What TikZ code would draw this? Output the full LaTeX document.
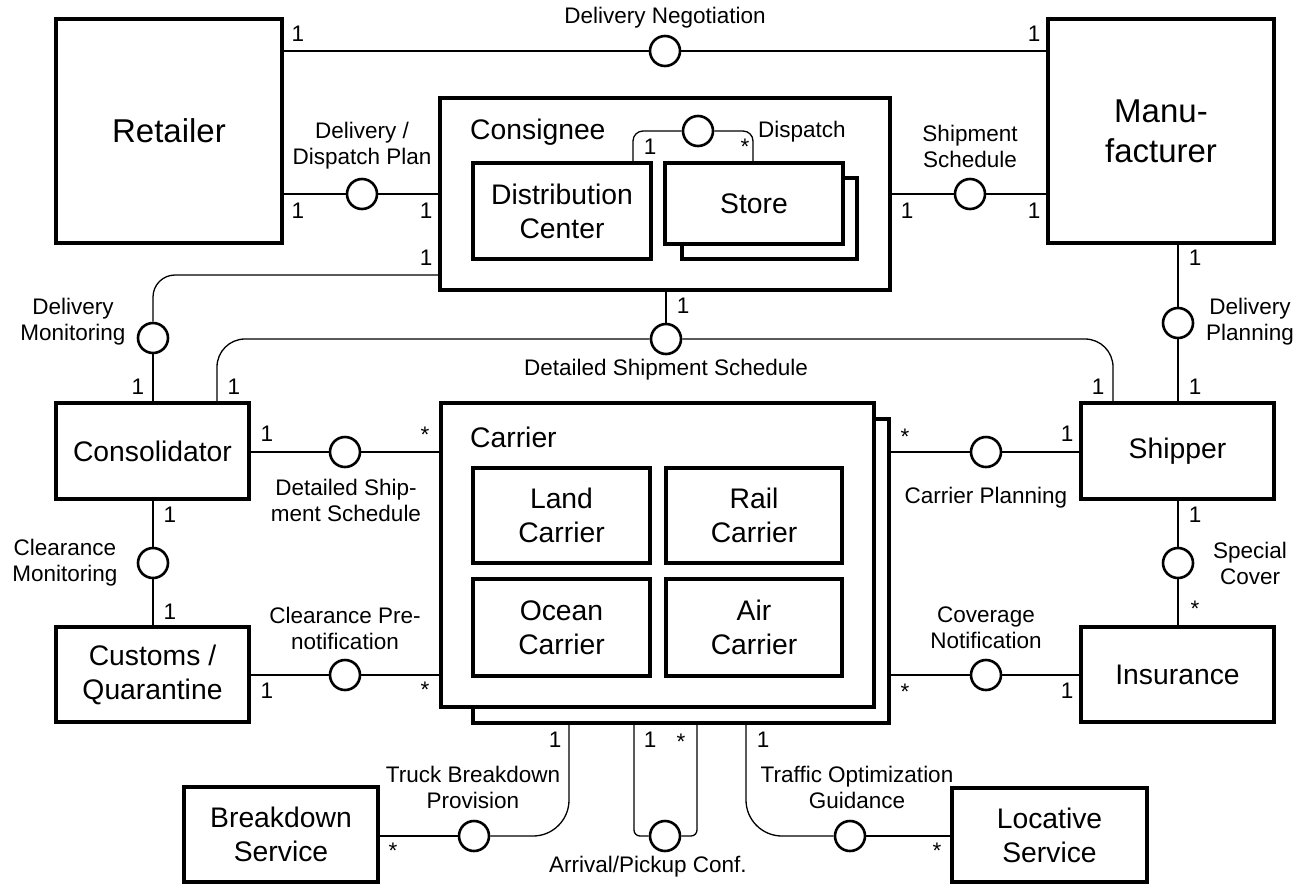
\documentclass[tikz,border=0pt]{standalone}
\usepackage{fontspec}
\setmainfont{Liberation Sans}
\begin{document}
\begin{tikzpicture}[x=1pt,y=-1pt,
  box/.style={draw, line width=3.2pt, fill=white, inner sep=0pt, align=center, font=\fontsize{28.3}{34}\selectfont},
  bigbox/.style={box, font=\fontsize{33}{40}\selectfont},
  iface/.style={draw, circle, line width=2.6pt, fill=white, minimum size=30pt, inner sep=0pt},
  conn/.style={line width=1.3pt},
  lbl/.style={font=\fontsize{22.5}{26}\selectfont, align=center, inner sep=0pt},
  mult/.style={font=\fontsize{22.5}{26}\selectfont, inner sep=0pt},
  title/.style={font=\fontsize{28.3}{34}\selectfont, inner sep=0pt, anchor=west},
]
\useasboundingbox (0,0) rectangle (1300,884);

% ---- boxes ----
\node[bigbox, minimum width=226pt, minimum height=224pt] (retailer) at (169,131) {Retailer};
\node[bigbox, minimum width=226pt, minimum height=224pt] (manu) at (1161,131) {Manu-\\facturer};

\node[box, minimum width=450pt, minimum height=192pt] (consignee) at (665,194) {};
\node[title] (consigneelbl) at (470,132) {Consignee};
\node[box, minimum width=178pt, minimum height=96pt] (dc) at (562,211) {Distribution\\Center};
\node[box, minimum width=175pt, minimum height=81pt] (storeshadow) at (769.5,218.5) {};
\node[box, minimum width=178pt, minimum height=81pt] (store) at (754,203.5) {Store};

\node[box, minimum width=193pt, minimum height=96pt] (consolidator) at (152.5,451) {Consolidator};
\node[box, minimum width=193pt, minimum height=96pt] (shipper) at (1177.5,451) {Shipper};
\node[box, minimum width=193pt, minimum height=95pt] (customs) at (152.5,674.5) {Customs /\\Quarantine};
\node[box, minimum width=193pt, minimum height=95pt] (insurance) at (1177.5,674.5) {Insurance};

\node[box, minimum width=416pt, minimum height=304pt] (cshadow) at (681,571) {};
\node[box, minimum width=433pt, minimum height=304pt] (carrier) at (657.5,555) {};
\node[title] (carrierlbl) at (470,437) {Carrier};
\node[box, minimum width=177pt, minimum height=95pt] (land) at (561.5,515.5) {Land\\Carrier};
\node[box, minimum width=176pt, minimum height=95pt] (rail) at (754,515.5) {Rail\\Carrier};
\node[box, minimum width=177pt, minimum height=97pt] (ocean) at (561.5,627.5) {Ocean\\Carrier};
\node[box, minimum width=176pt, minimum height=97pt] (air) at (754,627.5) {Air\\Carrier};

\node[box, minimum width=194pt, minimum height=95pt] (breakdown) at (281,834.5) {Breakdown\\Service};
\node[box, minimum width=195pt, minimum height=94pt] (locative) at (1049.5,835) {Locative\\Service};

% ---- interfaces ----
\node[iface] (ineg) at (665,51) {};
\node[iface] (idpp) at (362,194) {};
\node[iface] (iss) at (970,194) {};
\node[iface] (idisp) at (698,131) {};
\node[iface] (idm) at (153,338) {};
\node[iface] (ids) at (666,339) {};
\node[iface] (idp) at (1178,323) {};
\node[iface] (icc) at (345,452) {};
\node[iface] (isc) at (986,452) {};
\node[iface] (icm) at (153,563) {};
\node[iface] (icp) at (345,675) {};
\node[iface] (isp) at (1178,563) {};
\node[iface] (icn) at (986,675) {};
\node[iface] (itb) at (474,836) {};
\node[iface] (iap) at (665,836) {};
\node[iface] (ito) at (850,836) {};

% ---- turn points ----
\coordinate (dA) at (633,131);
\coordinate (dB) at (753,131);
\coordinate (dm) at (153,275);
\coordinate (dsL) at (217,339);
\coordinate (dsR) at (1113,339);
\coordinate (tb) at (569,836);
\coordinate (apL) at (634,836);
\coordinate (apR) at (697,836);
\coordinate (to) at (746,836);

% ---- connectors ----
\draw[conn] (retailer.east |- ineg) -- (ineg) -- (manu.west |- ineg);
\draw[conn] (retailer.east |- idpp) -- (idpp) -- (consignee.west |- idpp);
\draw[conn] (consignee.east |- iss) -- (iss) -- (manu.west |- iss);
\draw[conn, rounded corners=10pt] (dA |- dc.north) -- (dA) -- (idisp);
\draw[conn, rounded corners=10pt] (idisp) -- (dB) -- (dB |- store.north);
\draw[conn, rounded corners=22pt] (consignee.west |- dm) -- (dm) -- (idm);
\draw[conn] (idm) -- (idm |- consolidator.north);
\draw[conn, rounded corners=28pt] (dsL |- consolidator.north) -- (dsL) -- (ids);
\draw[conn, rounded corners=28pt] (ids) -- (dsR) -- (dsR |- shipper.north);
\draw[conn] (consignee.south -| ids) -- (ids);
\draw[conn] (idp |- manu.south) -- (idp) -- (idp |- shipper.north);
\draw[conn] (consolidator.east |- icc) -- (icc) -- (carrier.west |- icc);
\draw[conn] (cshadow.east |- isc) -- (isc) -- (shipper.west |- isc);
\draw[conn] (icm |- consolidator.south) -- (icm) -- (icm |- customs.north);
\draw[conn] (customs.east |- icp) -- (icp) -- (carrier.west |- icp);
\draw[conn] (isp |- shipper.south) -- (isp) -- (isp |- insurance.north);
\draw[conn] (cshadow.east |- icn) -- (icn) -- (insurance.west |- icn);
\draw[conn, rounded corners=36pt] (tb |- cshadow.south) -- (tb) -- (itb);
\draw[conn] (itb) -- (breakdown.east |- itb);
\draw[conn, rounded corners=6pt] (apL |- cshadow.south) -- (apL) -- (iap);
\draw[conn, rounded corners=6pt] (iap) -- (apR) -- (apR |- cshadow.south);
\draw[conn, rounded corners=36pt] (to |- cshadow.south) -- (to) -- (ito);
\draw[conn] (ito) -- (locative.west |- ito);

% ---- interface labels ----
\node[lbl] (lneg) at (665,18) {Delivery Negotiation};
\node[lbl] (ldpp) at (362,146) {Delivery /\\Dispatch Plan};
\node[lbl] (lss) at (970,146) {Shipment\\Schedule};
\node[lbl, anchor=west] (ldisp) at (758,132) {Dispatch};
\node[lbl] (ldm) at (73,322) {Delivery\\Monitoring};
\node[lbl] (lds) at (666,370) {Detailed Shipment Schedule};
\node[lbl] (ldp) at (1250,322) {Delivery\\Planning};
\node[lbl] (lcc) at (346,500) {Detailed Ship-\\ment Schedule};
\node[lbl] (lsc) at (986,498) {Carrier Planning};
\node[lbl] (lcm) at (65,563) {Clearance\\Monitoring};
\node[lbl] (lcp) at (345,628) {Clearance Pre-\\notification};
\node[lbl] (lsp) at (1250,563) {Special\\Cover};
\node[lbl] (lcn) at (986,628) {Coverage\\Notification};
\node[lbl] (ltb) at (473,787) {Truck Breakdown\\Provision};
\node[lbl] (lap) at (648,867) {Arrival/Pickup Conf.};
\node[lbl] (lto) at (857,787) {Traffic Optimization\\Guidance};

% ---- multiplicities ----
\node[mult] (m1) at (298,34) {1};
\node[mult] (m2) at (1034,34) {1};
\node[mult] (m3) at (298,211) {1};
\node[mult] (m4) at (426,211) {1};
\node[mult] (m5) at (907,211) {1};
\node[mult] (m6) at (1034,211) {1};
\node[mult] (m7) at (650,147) {1};
\node[mult] (m8) at (745,147) {*};
\node[mult] (m9) at (426,258) {1};
\node[mult] (m10) at (138,387) {1};
\node[mult] (m11) at (683,306) {1};
\node[mult] (m12) at (234,387) {1};
\node[mult] (m13) at (1098,387) {1};
\node[mult] (m14) at (1195,258) {1};
\node[mult] (m15) at (1195,387) {1};
\node[mult] (m16) at (267,434) {1};
\node[mult] (m17) at (425,435) {*};
\node[mult] (m18) at (905,437) {*};
\node[mult] (m19) at (1067,434) {1};
\node[mult] (m20) at (170,515) {1};
\node[mult] (m21) at (170,612) {1};
\node[mult] (m22) at (267,691) {1};
\node[mult] (m23) at (425,690) {*};
\node[mult] (m24) at (1195,515) {1};
\node[mult] (m25) at (1195,609) {*};
\node[mult] (m26) at (905,692) {*};
\node[mult] (m27) at (1067,691) {1};
\node[mult] (m28) at (555,740) {1};
\node[mult] (m29) at (393,851) {*};
\node[mult] (m30) at (650,740) {1};
\node[mult] (m31) at (681,742) {*};
\node[mult] (m32) at (763,740) {1};
\node[mult] (m33) at (937,851) {*};
\end{tikzpicture}
\end{document}
